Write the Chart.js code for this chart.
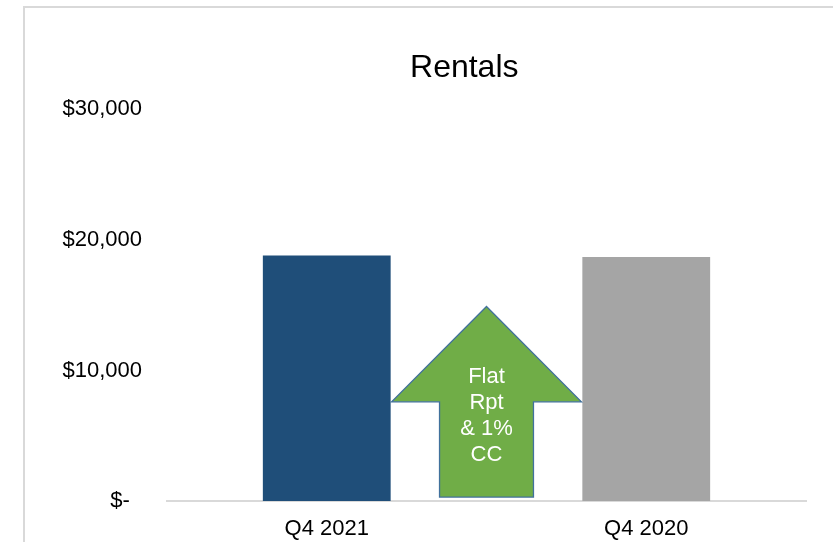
<!DOCTYPE html>
<html>
<head>
<meta charset="utf-8">
<script src="https://cdn.jsdelivr.net/npm/chart.js@4"></script>
<style>
  html, body { margin: 0; padding: 0; background: #fff; overflow: hidden; }
  #wrap { position: relative; width: 833px; height: 542px; }
  #frame { position: absolute; left: 23px; top: 6px; right: -10px; bottom: -10px;
           border-left: 2px solid #d9d9d9; border-top: 2px solid #d9d9d9; }
  canvas { position: absolute; left: 0; top: 0; }
</style>
</head>
<body>
<div id="wrap">
  <div id="frame"></div>
  <canvas id="myChart" width="833" height="542"></canvas>
</div>
<script>
var categories = ['Q4 2021', 'Q4 2020'];
var rentals = [18800, 18700];
var yTicks = [0, 10000, 20000, 30000];

// up-arrow callout between the bars (values in $ on the y scale)
var arrowLabel = ['Flat', 'Rpt', '& 1%', 'CC'];
var arrowTip = 14900;
var arrowShoulder = 7600;
var arrowBase = 300;
var arrowTextMid = 6500;

var barColors = ['#1F4E79', '#A5A5A5'];
var font = "'Liberation Sans', Arial, sans-serif";

function money(v) {
  if (v === 0) return '$-  ';
  return '$' + v.toLocaleString('en-US');
}

var arrowPlugin = {
  id: 'arrow',
  afterDatasetsDraw: function(chart) {
    var x = chart.scales.x, y = chart.scales.y, ctx = chart.ctx;
    var cw = x.getPixelForValue(1) - x.getPixelForValue(0);
    var cx = x.getPixelForValue(0.5);
    var head = cw * 0.297, shaft = cw * 0.147;
    var yTip = y.getPixelForValue(arrowTip);
    var ySh = y.getPixelForValue(arrowShoulder);
    var yB = y.getPixelForValue(arrowBase);
    ctx.save();
    ctx.beginPath();
    ctx.moveTo(cx, yTip);
    ctx.lineTo(cx + head, ySh);
    ctx.lineTo(cx + shaft, ySh);
    ctx.lineTo(cx + shaft, yB);
    ctx.lineTo(cx - shaft, yB);
    ctx.lineTo(cx - shaft, ySh);
    ctx.lineTo(cx - head, ySh);
    ctx.closePath();
    ctx.fillStyle = '#70AD47';
    ctx.fill();
    ctx.lineWidth = 1.3;
    ctx.strokeStyle = '#41719C';
    ctx.stroke();
    ctx.fillStyle = '#fff';
    ctx.font = '22px ' + font;
    ctx.textAlign = 'center';
    ctx.textBaseline = 'middle';
    var lh = 26;
    var mid = y.getPixelForValue(arrowTextMid);
    var start = mid - lh * (arrowLabel.length - 1) / 2;
    arrowLabel.forEach(function(t, i) {
      ctx.fillText(t, cx, start + i * lh);
    });
    ctx.restore();
  }
};

var ctx = document.getElementById('myChart');
var myChart = new Chart(ctx, {
  type: 'bar',
  data: {
    labels: categories,
    datasets: [{
      data: rentals,
      backgroundColor: barColors,
      borderWidth: 0,
      barPercentage: 0.4,
      categoryPercentage: 1
    }]
  },
  options: {
    responsive: false,
    animation: false,
    layout: { padding: { left: 0, right: 27, top: 0, bottom: 0 } },
    plugins: {
      legend: { display: false },
      tooltip: { enabled: false },
      title: {
        display: true,
        fullSize: false,
        // trailing spaces nudge the centred title left, as in the original
        text: 'Rentals\u00a0\u00a0\u00a0\u00a0\u00a0',
        color: '#000',
        font: { family: font, size: 32, weight: 'normal' },
        padding: { top: 49, bottom: 22 }
      }
    },
    scales: {
      x: {
        grid: { display: false },
        border: { display: true, color: '#D9D9D9', width: 2 },
        afterFit: function(scale) { scale.height = 41; },
        ticks: { color: '#000', font: { family: font, size: 22 }, padding: 7, maxRotation: 0 }
      },
      y: {
        min: 0,
        max: 30000,
        grid: { display: false },
        border: { display: false },
        afterFit: function(scale) { scale.width = 167; },
        afterBuildTicks: function(scale) {
          scale.ticks = yTicks.map(function(v) { return { value: v }; });
        },
        ticks: {
          color: '#000',
          font: { family: font, size: 22 },
          padding: 17,
          callback: function(v) { return money(v); }
        }
      }
    }
  },
  plugins: [arrowPlugin]
});
</script>
</body>
</html>
